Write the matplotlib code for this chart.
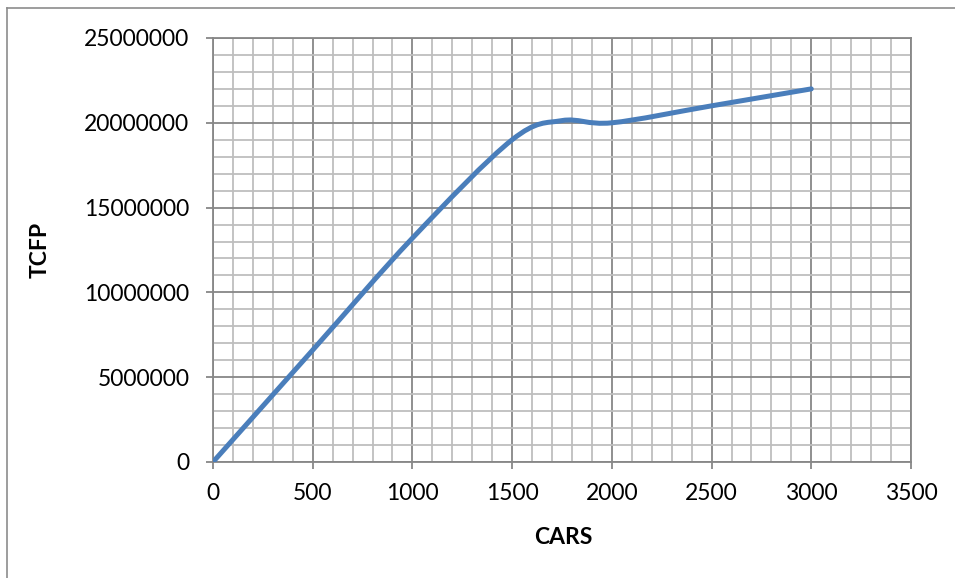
import matplotlib
matplotlib.use("Agg")
import matplotlib.pyplot as plt
from matplotlib.path import Path
from matplotlib.patches import PathPatch
from matplotlib.lines import Line2D
from matplotlib.ticker import MultipleLocator, FixedLocator, FixedFormatter

# ---- data ----
cars = [0, 500, 1000, 1500, 1750, 2000, 2500, 3000]
tcfp = [0, 6600000, 13200000, 19000000, 20130000, 20000000, 21000000, 22000000]
x_ticks = [0, 500, 1000, 1500, 2000, 2500, 3000, 3500]
y_ticks = [0, 5000000, 10000000, 15000000, 20000000, 25000000]
x_tick_labels = [str(v) for v in x_ticks]
y_tick_labels = [str(v) for v in y_ticks]
x_label = "CARS"
y_label = "TCFP"

plt.rcParams['font.family'] = ['Lato', 'DejaVu Sans']

W, H = 955, 578
fig = plt.figure(figsize=(W / 100, H / 100), dpi=100)
fig.patch.set_facecolor('white')

# outer chart border (partly outside the image)
border_c = '#8c8c8c'
fig.add_artist(Line2D([7 / W, 1.0], [1 - 8 / H, 1 - 8 / H], color=border_c, lw=1.2))
fig.add_artist(Line2D([7 / W, 7 / W], [1 - 8 / H, 0.0], color=border_c, lw=1.2))

left, right = 213 / W, 911 / W
bottom, top = 1 - 462 / H, 1 - 38 / H
ax = fig.add_axes([left, bottom, right - left, top - bottom])

ax.set_xlim(0, 3500)
ax.set_ylim(0, 25000000)

ax.xaxis.set_major_locator(FixedLocator(x_ticks))
ax.xaxis.set_major_formatter(FixedFormatter(x_tick_labels))
ax.yaxis.set_major_locator(FixedLocator(y_ticks))
ax.yaxis.set_major_formatter(FixedFormatter(y_tick_labels))
ax.xaxis.set_minor_locator(MultipleLocator(100))
ax.yaxis.set_minor_locator(MultipleLocator(1000000))

major_c = '#878787'
minor_c = '#bebebe'
ax.grid(which='minor', color=minor_c, lw=1.3, zorder=0)
ax.grid(which='major', color=major_c, lw=1.3, zorder=1)
ax.set_axisbelow(True)

for s in ax.spines.values():
    s.set_color(major_c)
    s.set_linewidth(1.3)

ax.tick_params(which='major', length=5, width=1.3, color=major_c,
               labelsize=16.5, labelcolor='black')
ax.tick_params(axis='y', which='major', pad=12)
ax.tick_params(axis='x', which='major', pad=10)
ax.tick_params(which='minor', length=0)

# Excel-like smoothed line (Catmull-Rom Bezier)
pts = list(zip(cars, tcfp))
n = len(pts)
verts = [pts[0]]
codes = [Path.MOVETO]
for i in range(n - 1):
    p0 = pts[i - 1] if i > 0 else pts[i]
    p1 = pts[i]
    p2 = pts[i + 1]
    p3 = pts[i + 2] if i + 2 < n else pts[i + 1]
    c1 = (p1[0] + (p2[0] - p0[0]) / 6, p1[1] + (p2[1] - p0[1]) / 6)
    c2 = (p2[0] - (p3[0] - p1[0]) / 6, p2[1] - (p3[1] - p1[1]) / 6)
    verts += [c1, c2, p2]
    codes += [Path.CURVE4] * 3
path = Path(verts, codes)
patch = PathPatch(path, fill=False, edgecolor='#4a7ebb', lw=3.6,
                  capstyle='round', joinstyle='round', zorder=3)
ax.add_patch(patch)

fig.text(563 / W, 1 - 537 / H, x_label, ha='center', va='center',
         fontsize=16.5, fontweight='bold')
fig.text(40 / W, 1 - 250 / H, y_label, ha='center', va='center',
         fontsize=16.5, fontweight='bold', rotation=90)

fig.savefig('out.png', dpi=100)
